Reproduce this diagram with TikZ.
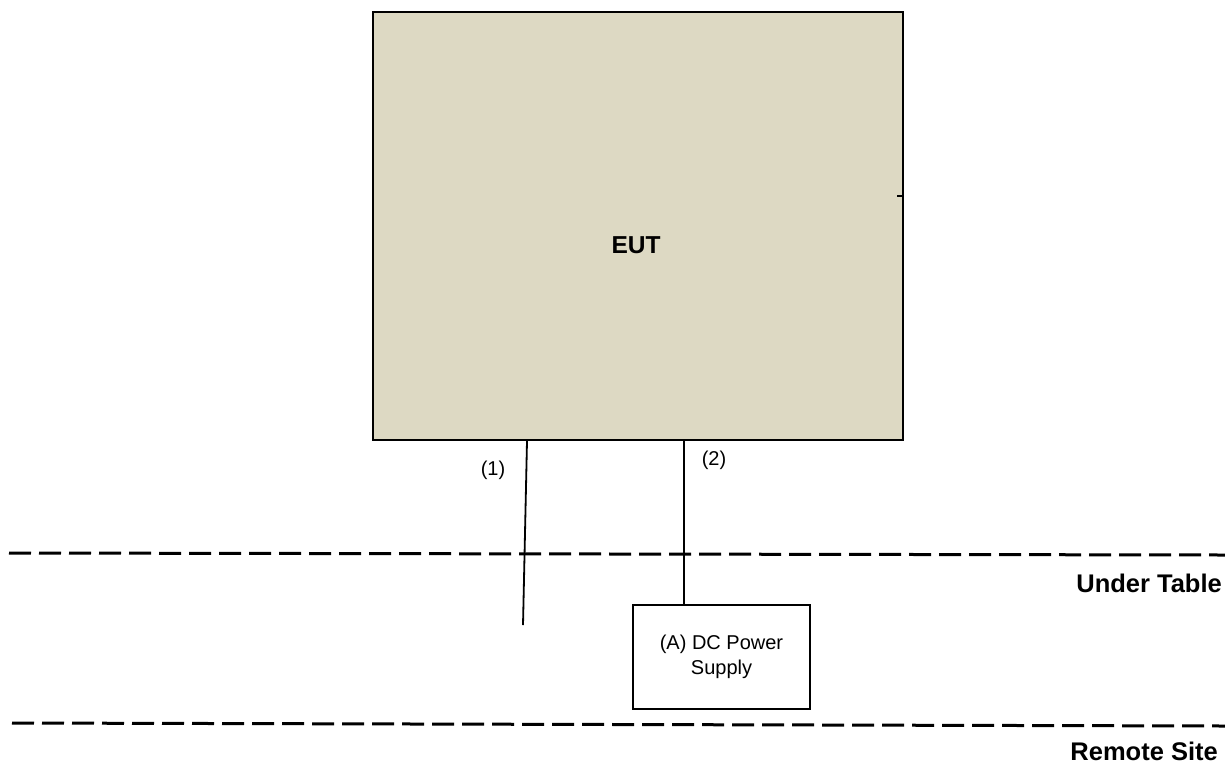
\documentclass[tikz,border=0pt]{standalone}
\usepackage{fontspec}
\setmainfont{Liberation Sans}
\definecolor{euttan}{HTML}{DDD9C3}
\begin{document}
\begin{tikzpicture}[x=1pt,y=-1pt,
  eutbox/.style={draw=black,fill=euttan,line width=2.8pt,minimum width=530pt,minimum height=428pt,inner sep=0pt},
  psubox/.style={draw=black,line width=2.2pt,minimum width=177pt,minimum height=104pt,inner sep=0pt,align=center,font=\fontsize{20}{25}\selectfont},
  cable/.style={line width=1.8pt},
  zoneline/.style={line width=3pt,dash pattern=on 22pt off 8pt},
  smalllabel/.style={font=\fontsize{20}{24}\selectfont,inner sep=0pt},
  zonelabel/.style={font=\bfseries\fontsize{25.5}{30}\selectfont,inner sep=0pt,anchor=east}]
\useasboundingbox (0,0) rectangle (1225,764);
% EUT
\node[eutbox] (eut) at (638,226) {};
\node[font=\bfseries\fontsize{24.5}{29}\selectfont,inner sep=0pt] (eutlabel) at (636,245) {EUT};
\coordinate (tickA) at (897,196);
\coordinate (tickB) at (903,196);
\draw[line width=1.5pt] (tickA) -- (tickB);
% zone lines
\coordinate (ut1) at (9,553);
\coordinate (ut2) at (1225,555);
\coordinate (rs1) at (12,723);
\coordinate (rs2) at (1225,726);
\draw[zoneline] (ut1) -- (ut2);
\draw[zoneline] (rs1) -- (rs2);
% PSU
\node[psubox] (psu) at (721.5,657) {(A) DC Power\\Supply};
% cables
\coordinate (c1top) at (527,441);
\coordinate (c1end) at (523,625);
\coordinate (c2top) at (684,441);
\draw[cable] (c1top) -- (c1end);
\draw[cable] (c2top) -- (c2top |- psu.north);
% labels
\node[smalllabel] (l1) at (493,470) {(1)};
\node[smalllabel] (l2) at (714,460) {(2)};
\node[zonelabel] (ut) at (1222,583) {Under Table};
\node[zonelabel] (rs) at (1218,751) {Remote Site};
\end{tikzpicture}
\end{document}
